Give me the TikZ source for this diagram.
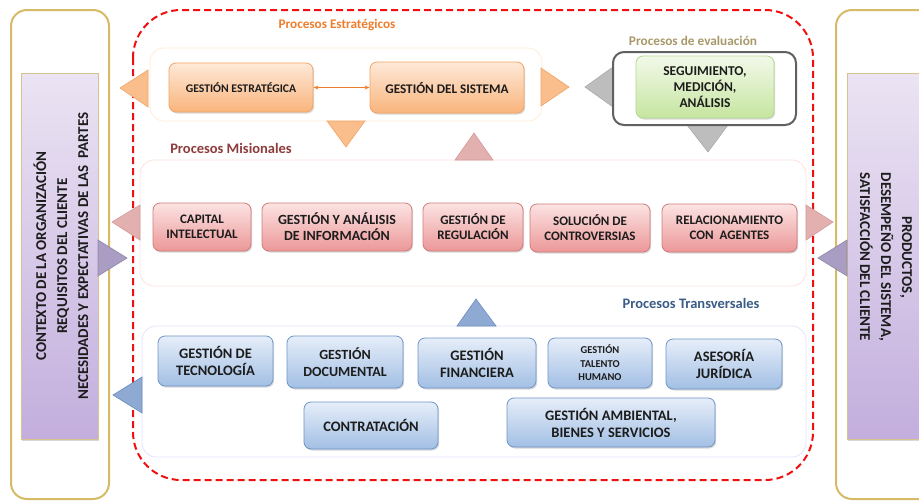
\documentclass[tikz,border=0pt]{standalone}
\usepackage{fontspec}
\setmainfont{Carlito}
\usetikzlibrary{shadows,arrows.meta}
\definecolor{txt}{HTML}{1C1C1C}
\definecolor{frame}{HTML}{D6BA66}
\definecolor{obd}{HTML}{F3A463}
\definecolor{otop}{HTML}{FEE9D8}
\definecolor{obot}{HTML}{F9B47C}
\definecolor{pbd}{HTML}{CF7C7C}
\definecolor{ptop}{HTML}{FCE3E3}
\definecolor{pbot}{HTML}{EC9797}
\definecolor{bbd}{HTML}{6F95C8}
\definecolor{btop}{HTML}{E6EEF9}
\definecolor{bbot}{HTML}{A2BFE4}
\definecolor{gbd}{HTML}{B4D88E}
\definecolor{gtop}{HTML}{F2F9E9}
\definecolor{gbot}{HTML}{C6E5A0}
\definecolor{vtop}{HTML}{EBE4F3}
\definecolor{vbot}{HTML}{C3AEDD}
\definecolor{vbd}{HTML}{D8C48A}
\definecolor{otri}{HTML}{F9BE8C}
\definecolor{otribd}{HTML}{F2A466}
\definecolor{ptri}{HTML}{E3B0B0}
\definecolor{ptribd}{HTML}{D49A9A}
\definecolor{gtri}{HTML}{BDBDBD}
\definecolor{btri}{HTML}{8FAAD2}
\definecolor{btribd}{HTML}{6B8BBE}
\definecolor{vtri}{HTML}{A99DC4}
\definecolor{lblo}{HTML}{EE7D2C}
\definecolor{lble}{HTML}{A8996A}
\definecolor{lblm}{HTML}{8E3B3B}
\definecolor{lblt}{HTML}{3A5C86}
\definecolor{reddash}{HTML}{F01010}
\tikzset{
  shad/.style={drop shadow={shadow xshift=1.2pt,shadow yshift=-1.5pt,opacity=0.25,fill=black!60}},
  boxbase/.style={rounded corners=7pt, align=center, text=txt, inner sep=2pt, line width=0.8pt, shad},
  obox/.style={boxbase, draw=obd, top color=otop, bottom color=obot},
  pbox/.style={boxbase, draw=pbd, top color=ptop, bottom color=pbot, font=\bfseries\fontsize{13}{15}\selectfont},
  bbox/.style={boxbase, draw=bbd, top color=btop, bottom color=bbot, font=\bfseries\fontsize{14.5}{17}\selectfont},
  gbox/.style={boxbase, draw=gbd, top color=gtop, bottom color=gbot, font=\bfseries\fontsize{13.5}{16}\selectfont},
  vbox/.style={draw=vbd, line width=0.8pt, top color=vtop, bottom color=vbot, shad},
  outer/.style={draw=frame, line width=2pt, rounded corners=16pt},
  group/.style={rounded corners=14pt, line width=0.8pt, fill=white},
  sidetxt/.style={align=center, text=txt, font=\bfseries\fontsize{15}{21}\selectfont},
  grplbl/.style={font=\bfseries\fontsize{14.5}{16}\selectfont},
}
\begin{document}
\begin{tikzpicture}[x=1pt,y=-1pt]
\clip (0,0) rectangle (919,501);
\fill[white] (0,0) rectangle (919,501);

% outer frames
\draw[outer] (11,10) rectangle (109,499);
\draw[outer] (836,10) rectangle (940,499);

% purple boxes
\node[vbox, minimum width=77pt, minimum height=366pt, inner sep=0pt] (ctxbox) at (59.5,256) {};
\node[vbox, minimum width=80pt, minimum height=366pt, inner sep=0pt] (prodbox) at (887,256) {};
\node[sidetxt, rotate=90] (ctx) at (61,256) {CONTEXTO DE LA ORGANIZACIÓN\\REQUISITOS DEL CLIENTE\\NECESIDADES Y EXPECTATIVAS DE LAS \ PARTES};
\node[sidetxt, rotate=-90] (prod) at (886,257) {PRODUCTOS,\\DESEMPEÑO DEL SISTEMA,\\SATISFACCIÓN DEL CLIENTE};

% red dashed frame
\draw[reddash, line width=2pt, dash pattern=on 7pt off 4pt, rounded corners=48pt] (133,10) rectangle (813,480);

% group containers
\draw[group, draw=orange!15] (150,48) rectangle (542,121);
\draw[group, draw=red!12] (140,160) rectangle (806,286);
\draw[group, draw=blue!10] (142,326) rectangle (806,457);

% group labels
\node[grplbl, text=lblo, font=\bfseries\fontsize{13.2}{15}\selectfont] (lstrat) at (337,25) {Procesos Estratégicos};
\node[grplbl, text=lble, font=\bfseries\fontsize{13.3}{15}\selectfont] (leval) at (693,41) {Procesos de evaluación};
\node[grplbl, text=lblm] (lmis) at (231,148) {Procesos Misionales};
\node[grplbl, text=lblt] (ltrans) at (691,303) {Procesos Transversales};

% triangles
\filldraw[fill=otri, draw=otribd, line width=0.6pt] (148,70) -- (148,107) -- (120,88) -- cycle;
\filldraw[fill=otri, draw=otribd, line width=0.6pt] (541,68) -- (541,106) -- (569,87) -- cycle;
\filldraw[fill=otri, draw=otribd, line width=0.6pt] (327,121) -- (365,121) -- (346,147) -- cycle;
\filldraw[fill=ptri, draw=ptribd, line width=0.6pt] (455,160) -- (493,160) -- (474,133) -- cycle;
\filldraw[fill=gtri, draw=gtri!90!black, line width=0.6pt] (613,67) -- (613,107) -- (585,87) -- cycle;
\filldraw[fill=gtri, draw=gtri!90!black, line width=0.6pt] (687,125) -- (728,125) -- (708,152) -- cycle;
\filldraw[fill=ptri, draw=ptribd, line width=0.6pt] (140,205) -- (140,240) -- (112,222) -- cycle;
\filldraw[fill=ptri, draw=ptribd, line width=0.6pt] (806,205) -- (806,240) -- (833,222) -- cycle;
\filldraw[fill=vtri, draw=vtri!85!black, line width=0.6pt] (98,240) -- (98,276) -- (127,258) -- cycle;
\filldraw[fill=vtri, draw=vtri!85!black, line width=0.6pt] (847,240) -- (847,276) -- (818,258) -- cycle;
\filldraw[fill=btri, draw=btribd, line width=0.6pt] (457,326) -- (496,326) -- (476,299) -- cycle;
\filldraw[fill=btri, draw=btribd, line width=0.6pt] (142,377) -- (142,413) -- (113,395) -- cycle;

% strategic
\node[obox, minimum width=144pt, minimum height=49pt, font=\bfseries\fontsize{11.7}{14}\selectfont] (ge) at (241,87.5) {GESTIÓN ESTRATÉGICA};
\node[obox, minimum width=154pt, minimum height=51pt, font=\bfseries\fontsize{13.2}{15}\selectfont] (gs) at (447,87.5) {GESTIÓN DEL SISTEMA};
\draw[{Stealth[length=5pt,width=4pt]}-{Stealth[length=5pt,width=4pt]}, draw=lblo, line width=1pt] (ge) -- (gs);

% evaluation
\node[draw=gray!75!black, line width=2pt, rounded corners=11pt, fill=white, minimum width=183pt, minimum height=73pt] (evalbox) at (704.5,88.5) {};
\node[gbox, minimum width=138pt, minimum height=62pt] (seg) at (705,87) {SEGUIMIENTO,\\MEDICIÓN,\\ANÁLISIS};

% misional
\node[pbox, minimum width=98pt, minimum height=48pt] (cap) at (202,227) {CAPITAL\\INTELECTUAL};
\node[pbox, minimum width=150pt, minimum height=48pt, font=\bfseries\fontsize{14}{16}\selectfont] (gai) at (337,227) {GESTIÓN Y ANÁLISIS\\DE INFORMACIÓN};
\node[pbox, minimum width=100pt, minimum height=48pt] (greg) at (473,227) {GESTIÓN DE\\REGULACIÓN};
\node[pbox, minimum width=120pt, minimum height=48pt] (sol) at (590,228) {SOLUCIÓN DE\\CONTROVERSIAS};
\node[pbox, minimum width=135pt, minimum height=48pt] (rel) at (729.5,228) {RELACIONAMIENTO\\CON \ AGENTES};

% transversal
\node[bbox, minimum width=115pt, minimum height=50pt] (gt) at (215.5,361) {GESTIÓN DE\\TECNOLOGÍA};
\node[bbox, minimum width=116pt, minimum height=52pt, font=\bfseries\fontsize{14}{17}\selectfont] (gd) at (345,362) {GESTIÓN\\DOCUMENTAL};
\node[bbox, minimum width=118pt, minimum height=50pt] (gf) at (477,363) {GESTIÓN\\FINANCIERA};
\node[bbox, minimum width=104pt, minimum height=50pt, font=\bfseries\fontsize{10.5}{13.5}\selectfont] (gth) at (600,363) {GESTIÓN\\TALENTO\\HUMANO};
\node[bbox, minimum width=116pt, minimum height=50pt] (aj) at (724,364) {ASESORÍA\\JURÍDICA};
\node[bbox, minimum width=134pt, minimum height=47pt] (con) at (371,425.5) {CONTRATACIÓN};
\node[bbox, minimum width=208pt, minimum height=49pt] (ga) at (611,422.5) {GESTIÓN AMBIENTAL,\\BIENES Y SERVICIOS};
\end{tikzpicture}
\end{document}
